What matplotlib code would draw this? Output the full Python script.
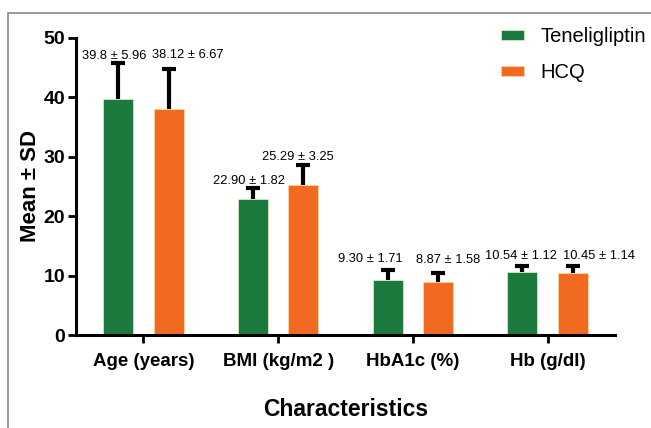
import matplotlib
matplotlib.use("Agg")
import matplotlib.pyplot as plt
import numpy as np
from matplotlib.patches import Rectangle

categories = ["Age (years)", "BMI (kg/m2 )", "HbA1c (%)", "Hb (g/dl)"]
series = ["Teneligliptin", "HCQ"]
tene_mean = [39.8, 22.90, 9.30, 10.54]
tene_sd = [5.96, 1.82, 1.71, 1.12]
hcq_mean = [38.12, 25.29, 8.87, 10.45]
hcq_sd = [6.67, 3.25, 1.58, 1.14]
tene_labels = ["39.8 ± 5.96", "22.90 ± 1.82", "9.30 ± 1.71", "10.54 ± 1.12"]
hcq_labels = ["38.12 ± 6.67", "25.29 ± 3.25", "8.87 ± 1.58", "10.45 ± 1.14"]
yticks = [0, 10, 20, 30, 40, 50]

# label placement offsets (pixels) relative to error-bar tops
tene_dx = [-4, -4, -17, -1]
tene_dy = [1, 1, 5, 4]
hcq_dx = [19, -5, 10, 26]
hcq_dy = [8, 2.5, 7, 4]

plt.rcParams['font.family'] = ['Liberation Sans', 'DejaVu Sans']

green = "#1d7a3e"
orange = "#f26a22"

fig = plt.figure(figsize=(6.51, 4.28), dpi=100)
fig.patches.append(Rectangle((8/651, -0.01), 1.0, 1 - 13/428 + 0.01, transform=fig.transFigure,
                             fill=False, edgecolor="#888888", lw=1.2))
ax = fig.add_axes([76/651, 1 - 335/428, (615 - 76)/651, (335 - 38)/428])

x = np.arange(len(categories))
w = 0.223
off = 0.187
ek = dict(ecolor="black", elinewidth=3, capsize=5, capthick=3)
b1 = ax.bar(x - off, tene_mean, w, color=green, edgecolor="#d8e8c0", linewidth=0.6,
            yerr=[np.zeros(4), tene_sd], error_kw=ek, label=series[0], zorder=2)
b2 = ax.bar(x + off, hcq_mean, w, color=orange, edgecolor="#f8d8a0", linewidth=0.6,
            yerr=[np.zeros(4), hcq_sd], error_kw=ek, label=series[1], zorder=2)
for b in (b1, b2):
    caps = b.errorbar.lines[1]
    if len(caps) == 2:
        caps[0].set_visible(False)

for i in range(len(categories)):
    ax.annotate(tene_labels[i], (x[i] - off, tene_mean[i] + tene_sd[i]),
                xytext=(tene_dx[i], tene_dy[i]), textcoords="offset pixels",
                ha="center", va="bottom", fontsize=9.3)
    ax.annotate(hcq_labels[i], (x[i] + off, hcq_mean[i] + hcq_sd[i]),
                xytext=(hcq_dx[i], hcq_dy[i]), textcoords="offset pixels",
                ha="center", va="bottom", fontsize=9.3)

ax.set_xlim(-0.5, 3.5)
ax.set_ylim(0, 50)
ax.set_yticks(yticks)
ax.set_xticks(x)
ax.set_xticklabels(categories, fontsize=13.5, fontweight="bold")
for lab in ax.get_yticklabels():
    lab.set_fontsize(14)
    lab.set_fontweight("bold")
ax.spines["top"].set_visible(False)
ax.spines["right"].set_visible(False)
ax.spines["left"].set_linewidth(2.2)
ax.spines["bottom"].set_linewidth(2.2)
ax.tick_params(axis="both", direction="out", width=2, length=6)
ax.tick_params(axis="x", pad=7)
ax.tick_params(axis="y", pad=2)
ax.set_ylabel("Mean ± SD", fontsize=16, fontweight="bold", labelpad=1.5)
ax.set_xlabel("Characteristics", fontsize=16.5, fontweight="bold", labelpad=20)

leg = ax.legend(loc="upper left", bbox_to_anchor=(501/651, 1 - 27/428), bbox_transform=fig.transFigure,
                frameon=False, fontsize=14.5, handlelength=1.15, handleheight=0.35,
                handletextpad=0.8, labelspacing=0.85, borderpad=0, borderaxespad=0)

fig.savefig("out.png", dpi=100)
